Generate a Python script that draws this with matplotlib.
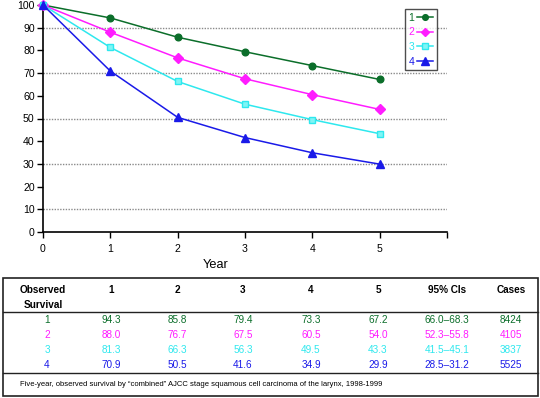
import matplotlib.pyplot as plt
import matplotlib.patches as mpatches

plt.rcParams['font.family'] = ['Liberation Sans', 'DejaVu Sans']

years = [0, 1, 2, 3, 4, 5]
stages = ['1', '2', '3', '4']
surv_1 = [100, 94.3, 85.8, 79.4, 73.3, 67.2]
surv_2 = [100, 88.0, 76.7, 67.5, 60.5, 54.0]
surv_3 = [100, 81.3, 66.3, 56.3, 49.5, 43.3]
surv_4 = [100, 70.9, 50.5, 41.6, 34.9, 29.9]
ci_95 = ['66.0\u201368.3', '52.3\u201355.8', '41.5\u201345.1', '28.5\u201331.2']
cases = ['8424', '4105', '3837', '5525']
header = ['1', '2', '3', '4', '5', '95% CIs', 'Cases']
caption = ('Five-year, observed survival by \u201ccombined\u201d AJCC stage squamous cell '
           'carcinoma of the larynx, 1998-1999')

colors = ['#0b6e2a', '#ff1cff', '#2ee8ee', '#1a1ae8']
markers = ['o', 'D', 's', '^']
msizes = [4.8, 4.6, 4.6, 6]
series = [surv_1, surv_2, surv_3, surv_4]

fig = plt.figure(figsize=(5.4, 3.98), dpi=100)
W, H = 540, 398


def fx(px):
    return px / W


def fy(py):
    return 1 - py / H


# chart axes: x 0..6 spans px 43..447, y 0..100 spans px 232..5
ax = fig.add_axes([fx(43), fy(232), (447 - 43) / W, (232 - 5) / H])
ax.set_xlim(0, 6)
ax.set_ylim(0, 100)
for yy in [10, 30, 50, 70, 90]:
    ax.axhline(yy, color='#8a8a8a', lw=1.0, ls=(0, (1, 1)), zorder=0)

for s, c, m, ms, lab in zip(series, colors, markers, msizes, stages):
    face = '#7ff5f5' if m == 's' else c
    ax.plot(years, s, color=c, lw=1.1, marker=m, ms=ms, mfc=face, mec=c,
            label=lab, clip_on=False, zorder=3)

ax.spines['top'].set_visible(False)
ax.spines['right'].set_visible(False)
ax.spines['left'].set_linewidth(1.2)
ax.spines['bottom'].set_linewidth(1.2)
ax.set_yticks(range(0, 101, 10))
ax.set_xticks([0, 1, 2, 3, 4, 5, 6])
ax.set_xticklabels(['0', '1', '2', '3', '4', '5', ''])
ax.tick_params(axis='both', labelsize=7.6, length=4, width=1, direction='out', pad=2)
ax.tick_params(axis='x', pad=5)
ax.set_xlabel('Year', fontsize=9.2)
ax.xaxis.set_label_coords((216 - 43) / (447 - 43), -(265 - 232) / (232 - 5), transform=ax.transAxes)
ax.xaxis.label.set_va('center')

leg = ax.legend(loc='upper left', bbox_to_anchor=((405 - 43) / (447 - 43), 1 - 4 / 227),
                markerfirst=False, fontsize=7.5, frameon=True, fancybox=False,
                handlelength=1.6, handletextpad=0.2, borderpad=0.35,
                labelspacing=0.45, borderaxespad=0, markerscale=0.85)
leg.get_frame().set_edgecolor('#222222')
leg.get_frame().set_linewidth(1.0)
for txt, c in zip(leg.get_texts(), colors):
    txt.set_color(c)

# table box and rules
fig.patches.append(mpatches.Rectangle((fx(3), fy(396)), (538 - 3) / W, (396 - 278) / H,
                                      transform=fig.transFigure, fill=False,
                                      ec='#222222', lw=1.2))
fig.add_artist(plt.Line2D([fx(3), fx(538)], [fy(312), fy(312)], color='#222222', lw=1.0))
fig.add_artist(plt.Line2D([fx(3), fx(538)], [fy(373), fy(373)], color='#222222', lw=1.0))

fs = 7.2
col_x = [111, 177, 243, 311, 378, 447, 511]
fig.text(fx(43), fy(290), 'Observed', ha='center', va='center', fontsize=fs, fontweight='bold')
fig.text(fx(43), fy(305), 'Survival', ha='center', va='center', fontsize=fs, fontweight='bold')
for x, h in zip(col_x, header):
    fig.text(fx(x), fy(290), h, ha='center', va='center', fontsize=fs, fontweight='bold')

row_y = [320, 335, 350, 365]
for i, (s, c) in enumerate(zip(series, colors)):
    vals = ['%.1f' % v for v in s[1:]] + [ci_95[i], cases[i]]
    fig.text(fx(47), fy(row_y[i]), stages[i], ha='center', va='center', fontsize=fs, color=c)
    for x, v in zip(col_x, vals):
        fig.text(fx(x), fy(row_y[i]), v, ha='center', va='center', fontsize=fs, color=c)

fig.text(fx(20), fy(385), caption, ha='left', va='center', fontsize=5.5)

fig.savefig('out.png', dpi=100)
